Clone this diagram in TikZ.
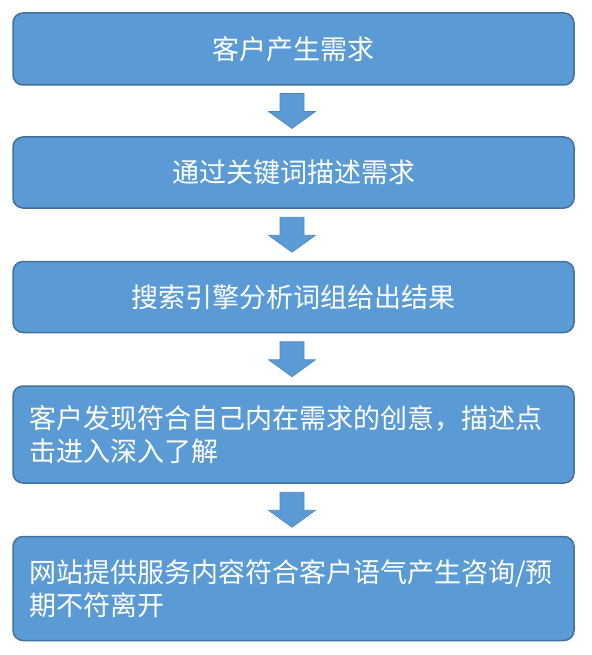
\documentclass[tikz,border=0pt]{standalone}
\usepackage{fontspec}
\newfontfamily\cjk{Noto Sans CJK SC}
\usetikzlibrary{calc}
\definecolor{boxfill}{HTML}{5B9BD5}
\definecolor{boxline}{HTML}{41719C}
\begin{document}
\begin{tikzpicture}[x=1pt,y=-1pt,
  box/.style={draw=boxline, line width=1.5pt, fill=boxfill, rounded corners=10pt,
    minimum width=561pt, text width=529pt, inner xsep=16pt, inner ysep=0pt,
    text=white, font=\cjk\fontsize{27}{33}\selectfont},
  ctr/.style={align=center},
  lft/.style={align=left},
  arr/.style={fill=boxfill, draw=boxline!50!boxfill, line width=0.6pt}]
\useasboundingbox (0,0) rectangle (591,655);
\node[box, ctr, minimum height=72pt] (b1) at (293.5,49) {客户产生需求};
\node[box, ctr, minimum height=71pt] (b2) at (293.5,172.5) {通过关键词描述需求};
\node[box, ctr, minimum height=71pt] (b3) at (293.5,297) {搜索引擎分析词组给出结果};
\node[box, lft, minimum height=97pt] (b4) at (293.5,434.5) {客户发现符合自己内在需求的创意，描述点\\击进入深入了解};
\node[box, lft, minimum height=104pt] (b5) at (293.5,588.5) {网站提供服务内容符合客户语气产生咨询/预\\期不符离开};
\foreach \a/\b in {b1/b2,b2/b3,b3/b4,b4/b5}{
  \coordinate (m-\a) at ($(\a.south)!0.5!(\b.north)+(-1.5,0)$);
  \draw[arr] ($(m-\a)+(-12,-17.5)$) -- ($(m-\a)+(12,-17.5)$) -- ($(m-\a)+(12,0.5)$)
    -- ($(m-\a)+(23.5,0.5)$) -- ($(m-\a)+(0,17.5)$) -- ($(m-\a)+(-23.5,0.5)$)
    -- ($(m-\a)+(-12,0.5)$) -- cycle;
}
\end{tikzpicture}
\end{document}
